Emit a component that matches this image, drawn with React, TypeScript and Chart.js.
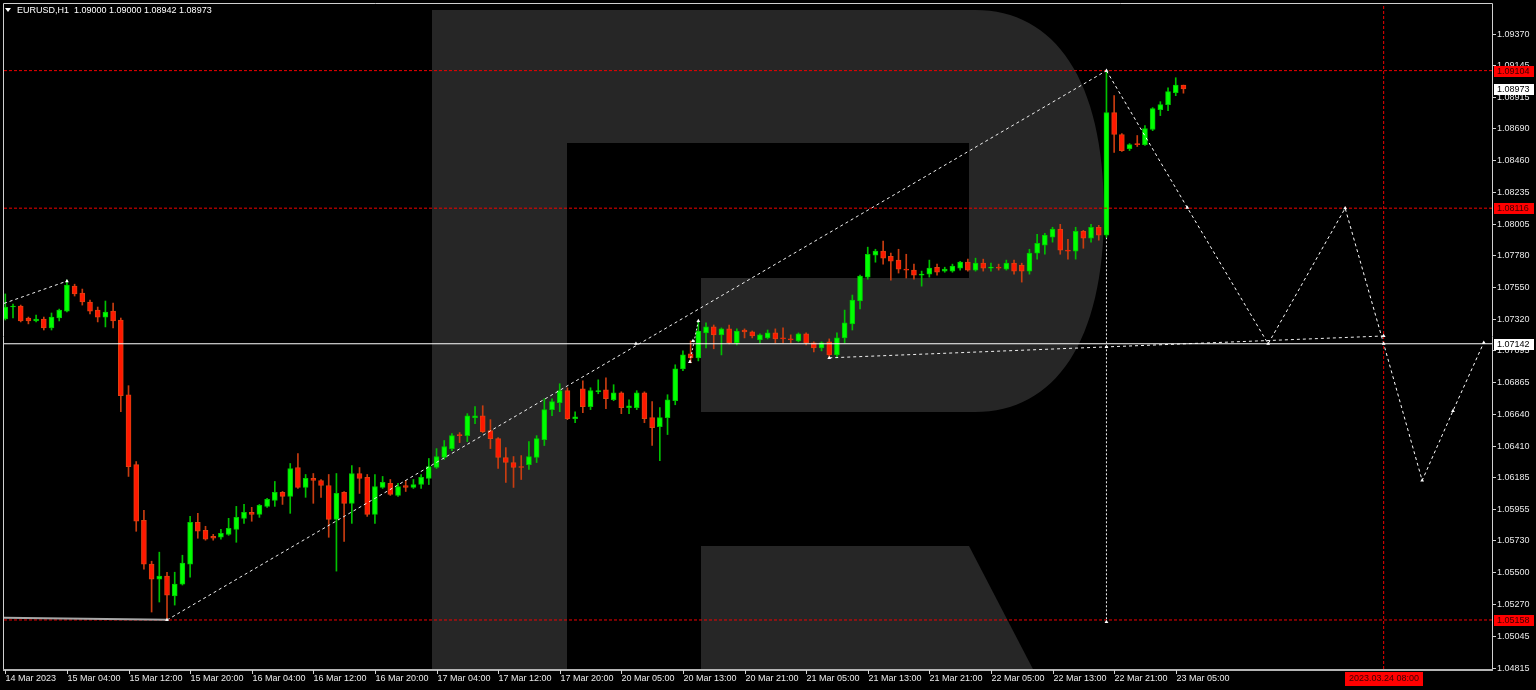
import React, { useEffect, useRef } from 'react';
import { Chart, registerables } from 'chart.js';

Chart.register(...registerables);

// ---------- candle data (EURUSD H1), bar index 0 = 14 Mar 20:00 ----------
const opens = [
  1.07320, 1.07406, 1.07413, 1.07327, 1.07306, 1.07320, 1.07256, 1.07327, 1.07377, 1.07556,
  1.07507, 1.07442, 1.07384, 1.07334, 1.07377, 1.07313, 1.06776, 1.06274, 1.05874, 1.05559,
  1.05451, 1.05473, 1.05330, 1.05416, 1.05559, 1.05860, 1.05802, 1.05759, 1.05752, 1.05773,
  1.05809, 1.05888, 1.05931, 1.05917, 1.05974, 1.06017, 1.06074, 1.06046, 1.06253, 1.06110,
  1.06175, 1.06160, 1.06124, 1.05881, 1.06074, 1.05996, 1.06210, 1.06182, 1.05917, 1.06110,
  1.06139, 1.06053, 1.06124, 1.06110, 1.06131, 1.06175, 1.06253, 1.06325, 1.06389, 1.06490,
  1.06482, 1.06611, 1.06625, 1.06518, 1.06461, 1.06325, 1.06289, 1.06260, 1.06274, 1.06325,
  1.06454, 1.06669, 1.06719, 1.06805, 1.06604, 1.06819, 1.06690, 1.06798, 1.06812, 1.06740,
  1.06790, 1.06683, 1.06683, 1.06790, 1.06611, 1.06547, 1.06611, 1.06733, 1.06962, 1.07070,
  1.07041, 1.07220, 1.07263, 1.07206, 1.07249, 1.07148, 1.07241, 1.07227, 1.07170, 1.07184,
  1.07220, 1.07184, 1.07177, 1.07163, 1.07213, 1.07148, 1.07113, 1.07156, 1.07062, 1.07184,
  1.07285, 1.07449, 1.07621, 1.07778, 1.07807, 1.07771, 1.07743, 1.07678, 1.07671, 1.07635,
  1.07642, 1.07692, 1.07664, 1.07664, 1.07685, 1.07728, 1.07671, 1.07721, 1.07685, 1.07692,
  1.07678, 1.07721, 1.07707, 1.07664, 1.07793, 1.07850, 1.07907, 1.07965, 1.07814, 1.07807,
  1.07950, 1.07900, 1.07979, 1.07922, 1.08802, 1.08645, 1.08544, 1.08580, 1.08573, 1.08681,
  1.08824, 1.08860, 1.08946, 1.09000,
];
const highs = [
  1.07500, 1.07428, 1.07420, 1.07334, 1.07348, 1.07334, 1.07363, 1.07391, 1.07599, 1.07570,
  1.07535, 1.07456, 1.07406, 1.07449, 1.07435, 1.07327, 1.06841, 1.06296, 1.05945, 1.05580,
  1.05645, 1.05501, 1.05501, 1.05623, 1.05903, 1.05924, 1.05831, 1.05773, 1.05809, 1.05888,
  1.05974, 1.05988, 1.05967, 1.05988, 1.06031, 1.06153, 1.06081, 1.06282, 1.06353, 1.06203,
  1.06210, 1.06167, 1.06203, 1.06210, 1.06081, 1.06267, 1.06253, 1.06203, 1.06203, 1.06189,
  1.06167, 1.06139, 1.06160, 1.06167, 1.06203, 1.06318, 1.06389, 1.06447, 1.06497, 1.06504,
  1.06640, 1.06690, 1.06697, 1.06597, 1.06468, 1.06396, 1.06332, 1.06339, 1.06439, 1.06482,
  1.06747, 1.06747, 1.06855, 1.06826, 1.06654, 1.06876, 1.06826, 1.06883, 1.06898, 1.06848,
  1.06797, 1.06740, 1.06805, 1.06797, 1.06726, 1.06683, 1.06776, 1.06991, 1.07091, 1.07163,
  1.07306, 1.07292, 1.07277, 1.07256, 1.07277, 1.07249, 1.07249, 1.07234, 1.07213, 1.07241,
  1.07249, 1.07256, 1.07206, 1.07220, 1.07220, 1.07156, 1.07156, 1.07177, 1.07220, 1.07384,
  1.07492, 1.07635, 1.07836, 1.07821, 1.07879, 1.07793, 1.07821, 1.07785, 1.07714, 1.07664,
  1.07743, 1.07714, 1.07692, 1.07714, 1.07735, 1.07750, 1.07757, 1.07750, 1.07721, 1.07714,
  1.07743, 1.07743, 1.07721, 1.07821, 1.07929, 1.07936, 1.07979, 1.08000, 1.07893, 1.07979,
  1.07957, 1.08000, 1.07993, 1.09104, 1.08924, 1.08652, 1.08580, 1.08638, 1.08709, 1.08838,
  1.08881, 1.08981, 1.09053, 1.09000,
];
const lows = [
  1.07313, 1.07327, 1.07299, 1.07285, 1.07299, 1.07241, 1.07241, 1.07306, 1.07370, 1.07485,
  1.07420, 1.07356, 1.07299, 1.07263, 1.07256, 1.06654, 1.06189, 1.05795, 1.05523, 1.05215,
  1.05287, 1.05158, 1.05265, 1.05409, 1.05466, 1.05745, 1.05731, 1.05731, 1.05738, 1.05766,
  1.05716, 1.05852, 1.05867, 1.05895, 1.05967, 1.05974, 1.05988, 1.05924, 1.06103, 1.06039,
  1.05996, 1.06039, 1.05752, 1.05509, 1.05723, 1.05852, 1.06067, 1.05902, 1.05852, 1.06103,
  1.06053, 1.06046, 1.06081, 1.06103, 1.06103, 1.06131, 1.06246, 1.06311, 1.06375, 1.06432,
  1.06439, 1.06568, 1.06504, 1.06389, 1.06246, 1.06146, 1.06110, 1.06167, 1.06239, 1.06289,
  1.06411, 1.06625, 1.06654, 1.06597, 1.06575, 1.06647, 1.06669, 1.06783, 1.06676, 1.06733,
  1.06640, 1.06640, 1.06669, 1.06575, 1.06411, 1.06303, 1.06490, 1.06704, 1.06948, 1.07005,
  1.07019, 1.07113, 1.07106, 1.07062, 1.07141, 1.07134, 1.07184, 1.07184, 1.07148, 1.07177,
  1.07148, 1.07148, 1.07148, 1.07156, 1.07134, 1.07084, 1.07091, 1.07041, 1.07041, 1.07148,
  1.07241, 1.07392, 1.07606, 1.07728, 1.07714, 1.07599, 1.07650, 1.07614, 1.07606, 1.07556,
  1.07621, 1.07635, 1.07656, 1.07656, 1.07671, 1.07664, 1.07664, 1.07664, 1.07664, 1.07671,
  1.07671, 1.07642, 1.07585, 1.07642, 1.07750, 1.07785, 1.07872, 1.07785, 1.07750, 1.07750,
  1.07828, 1.07872, 1.07886, 1.07907, 1.08516, 1.08523, 1.08530, 1.08559, 1.08566, 1.08673,
  1.08781, 1.08817, 1.08924, 1.08942,
];
const closes = [
  1.07406, 1.07413, 1.07306, 1.07306, 1.07320, 1.07256, 1.07334, 1.07384, 1.07563, 1.07500,
  1.07442, 1.07377, 1.07334, 1.07370, 1.07306, 1.06769, 1.06260, 1.05867, 1.05559, 1.05451,
  1.05473, 1.05337, 1.05416, 1.05566, 1.05860, 1.05795, 1.05738, 1.05745, 1.05781, 1.05816,
  1.05895, 1.05931, 1.05917, 1.05981, 1.06024, 1.06074, 1.06046, 1.06246, 1.06110, 1.06175,
  1.06160, 1.06124, 1.05881, 1.06067, 1.05996, 1.06210, 1.06175, 1.05917, 1.06117, 1.06146,
  1.06060, 1.06117, 1.06110, 1.06131, 1.06182, 1.06260, 1.06332, 1.06404, 1.06482, 1.06482,
  1.06625, 1.06625, 1.06511, 1.06461, 1.06325, 1.06289, 1.06253, 1.06253, 1.06332, 1.06461,
  1.06669, 1.06726, 1.06805, 1.06604, 1.06618, 1.06690, 1.06805, 1.06805, 1.06747, 1.06790,
  1.06683, 1.06697, 1.06790, 1.06604, 1.06540, 1.06611, 1.06740, 1.06962, 1.07062, 1.07041,
  1.07234, 1.07263, 1.07206, 1.07249, 1.07148, 1.07234, 1.07227, 1.07199, 1.07206, 1.07220,
  1.07177, 1.07177, 1.07170, 1.07213, 1.07148, 1.07113, 1.07148, 1.07062, 1.07184, 1.07292,
  1.07456, 1.07628, 1.07785, 1.07807, 1.07757, 1.07735, 1.07678, 1.07671, 1.07635, 1.07642,
  1.07685, 1.07656, 1.07678, 1.07700, 1.07728, 1.07671, 1.07721, 1.07685, 1.07692, 1.07685,
  1.07721, 1.07664, 1.07664, 1.07793, 1.07864, 1.07922, 1.07965, 1.07814, 1.07807, 1.07950,
  1.07900, 1.07979, 1.07922, 1.08802, 1.08645, 1.08530, 1.08573, 1.08573, 1.08688, 1.08831,
  1.08860, 1.08953, 1.09000, 1.08973,
];

// ---------- axes ----------
const timeTickBars = [0, 8, 16, 24, 32, 40, 48, 56, 64, 72, 80, 88, 96, 104, 112, 120, 128, 136, 144, 152];
const timeTickLabels = [
  '14 Mar 2023', '15 Mar 04:00', '15 Mar 12:00', '15 Mar 20:00', '16 Mar 04:00', '16 Mar 12:00',
  '16 Mar 20:00', '17 Mar 04:00', '17 Mar 12:00', '17 Mar 20:00', '20 Mar 05:00', '20 Mar 13:00',
  '20 Mar 21:00', '21 Mar 05:00', '21 Mar 13:00', '21 Mar 21:00', '22 Mar 05:00', '22 Mar 13:00',
  '22 Mar 21:00', '23 Mar 05:00',
];
const priceTicks = [
  1.09370, 1.09145, 1.08915, 1.08690, 1.08460, 1.08235, 1.08005, 1.07780, 1.07550, 1.07320, 1.07095,
  1.06865, 1.06640, 1.06410, 1.06185, 1.05955, 1.05730, 1.05500, 1.05270, 1.05045, 1.04815,
];
const xMin = -0.17;
const xMax = 193.07;
const yMin = 1.048058;
const yMax = 1.095827;

// ---------- levels & drawn objects ----------
const redLevels = [1.09104, 1.08116, 1.05158];
const whiteLevel = 1.07142;
const lastPrice = 1.08973;
const headerText = 'EURUSD,H1  1.09000 1.09000 1.08942 1.08973';
const verticalBar = 179;
const verticalLabel = '2023.03.24 08:00';

const forecastBars = [143, 153.5, 164, 174, 179, 184, 188, 192];
const forecastPrices = [1.09104, 1.08120, 1.07142, 1.08116, 1.07142, 1.06160, 1.06660, 1.07150];
const riseBars = [21, 143];
const risePrices = [1.05158, 1.09104];
const earlyBars = [-0.17, 8];
const earlyPrices = [1.07432, 1.07592];
const flatBars = [107, 179];
const flatPrices = [1.07041, 1.07198];
const stepBars = [88.9, 90];
const stepPrices = [1.07012, 1.07306];
const dropBars = [143, 143];
const dropPrices = [1.07907, 1.05144];
const greyBars = [-0.17, 21];
const greyPrices = [1.05174, 1.05160];
const markerBars = [8, 21, 143, 81.9, 143, 143, 107, 179, 88.9, 89.3, 90, 153.5, 164, 174, 179, 184, 188, 192];
const markerPrices = [
  1.07592, 1.05158, 1.09104, 1.07142, 1.07120, 1.05144, 1.07041, 1.07198, 1.07012, 1.07163, 1.07306,
  1.08120, 1.07142, 1.08116, 1.07142, 1.06160, 1.06660, 1.07150,
];

const FONT = '9px "Liberation Sans", Arial, sans-serif';

const pts = (xs: number[], ys: number[]) => xs.map((x, k) => ({ x, y: ys[k] }));

const lineDs = (xs: number[], ys: number[], color: string, width: number, dash: number[], order = 0) => ({
  type: 'line' as const,
  data: pts(xs, ys),
  borderColor: color,
  borderWidth: width,
  borderDash: dash,
  pointRadius: 0,
  fill: false,
  tension: 0,
  order,
});

const mt4Plugin = {
  id: 'mt4Look',
  beforeDraw(chart: any) {
    const ctx = chart.ctx;
    ctx.save();
    ctx.fillStyle = '#000000';
    ctx.fillRect(0, 0, chart.width, chart.height);
    ctx.restore();
  },
  beforeDatasetsDraw(chart: any) {
    const ctx = chart.ctx;
    const a = chart.chartArea;
    ctx.save();
    ctx.beginPath();
    ctx.rect(a.left, a.top, a.right - a.left, a.bottom - a.top);
    ctx.clip();
    ctx.fillStyle = '#262626';
    ctx.beginPath();
    ctx.moveTo(432, 10);
    ctx.lineTo(975, 10);
    ctx.bezierCurveTo(1055, 10, 1104, 80, 1104, 211);
    ctx.bezierCurveTo(1104, 342, 1055, 412, 975, 412);
    ctx.lineTo(701, 412);
    ctx.lineTo(701, 278);
    ctx.lineTo(969, 278);
    ctx.lineTo(969, 143);
    ctx.lineTo(567, 143);
    ctx.lineTo(567, 700);
    ctx.lineTo(432, 700);
    ctx.closePath();
    ctx.fill();
    ctx.beginPath();
    ctx.moveTo(701, 546);
    ctx.lineTo(969, 546);
    ctx.lineTo(1049, 700);
    ctx.lineTo(701, 700);
    ctx.closePath();
    ctx.fill();
    ctx.restore();
  },
  afterDraw(chart: any) {
    const ctx = chart.ctx;
    const a = chart.chartArea;
    const xs = chart.scales.x;
    const ys = chart.scales.y;
    ctx.save();
    ctx.font = FONT;
    ctx.lineWidth = 1;

    // frame
    ctx.strokeStyle = '#d0d0d0';
    ctx.beginPath();
    ctx.moveTo(a.left - 0.5, a.top - 0.5);
    ctx.lineTo(a.right + 0.5, a.top - 0.5);
    ctx.lineTo(a.right + 0.5, a.bottom + 0.5);
    ctx.moveTo(a.left - 0.5, a.top - 0.5);
    ctx.lineTo(a.left - 0.5, a.bottom + 0.5);
    ctx.stroke();
    ctx.strokeStyle = '#b4b4b4';
    ctx.lineWidth = 2;
    ctx.beginPath();
    ctx.moveTo(a.left - 1, a.bottom + 1);
    ctx.lineTo(a.right + 1, a.bottom + 1);
    ctx.stroke();
    ctx.lineWidth = 1;

    // price ticks
    ctx.strokeStyle = '#d0d0d0';
    ctx.fillStyle = '#e8e8e8';
    ctx.textAlign = 'left';
    ctx.textBaseline = 'middle';
    priceTicks.forEach((p) => {
      const py = Math.round(ys.getPixelForValue(p)) + 0.5;
      ctx.beginPath();
      ctx.moveTo(a.right + 1, py);
      ctx.lineTo(a.right + 4, py);
      ctx.stroke();
      ctx.fillText(p.toFixed(5), a.right + 5, py);
    });

    // time ticks
    timeTickBars.forEach((b, k) => {
      const px = Math.round(xs.getPixelForValue(b)) + 0.5;
      ctx.beginPath();
      ctx.moveTo(px, a.bottom + 1);
      ctx.lineTo(px, a.bottom + 5);
      ctx.stroke();
      ctx.fillText(timeTickLabels[k], px, a.bottom + 10);
    });

    // price boxes
    const box = (p: number, bg: string, fg: string) => {
      const py = Math.round(ys.getPixelForValue(p));
      ctx.fillStyle = bg;
      ctx.fillRect(a.right + 2, py - 5, 40, 11);
      ctx.fillStyle = fg;
      ctx.fillText(p.toFixed(5), a.right + 5, py + 0.5);
    };
    redLevels.forEach((p) => box(p, '#ff0000', '#3a0000'));
    box(lastPrice, '#ffffff', '#000000');
    box(whiteLevel, '#ffffff', '#000000');

    // time box
    const vx = Math.round(xs.getPixelForValue(verticalBar));
    ctx.fillStyle = '#ff0000';
    ctx.fillRect(vx - 39, a.bottom + 3, 78, 14);
    ctx.fillStyle = '#3a0000';
    ctx.textAlign = 'center';
    ctx.fillText(verticalLabel, vx, a.bottom + 10);

    // header
    ctx.fillStyle = '#ffffff';
    ctx.beginPath();
    ctx.moveTo(5, 8);
    ctx.lineTo(11, 8);
    ctx.lineTo(8, 12);
    ctx.closePath();
    ctx.fill();
    ctx.textAlign = 'left';
    ctx.fillText(headerText, 17, 10.5);
    ctx.restore();
  },
};

export default function App() {
  const ref = useRef<HTMLCanvasElement>(null);
  useEffect(() => {
    const canvas = ref.current;
    if (!canvas) return;
    const bull = closes.map((c, i) => c >= opens[i]);
    const bodyFill = bull.map((b) => (b ? '#00ff00' : '#ff1800'));
    const bodyEdge = bull.map((b) => (b ? '#00c800' : '#e04010'));
    const wickCol = bull.map((b) => (b ? '#00c000' : '#c83c10'));
    const chart = new Chart(canvas, {
      type: 'bar',
      data: {
        datasets: [
          {
            type: 'bar',
            data: opens.map((o, i) => ({ x: i, y: [o, closes[i]] })) as any,
            backgroundColor: bodyFill,
            borderColor: bodyEdge,
            borderWidth: 1,
            borderSkipped: false,
            grouped: false,
            maxBarThickness: 5,
            categoryPercentage: 1,
            barPercentage: 1,
            minBarLength: 1,
            order: 1,
          } as any,
          {
            type: 'bar',
            data: lows.map((l, i) => ({ x: i, y: [l, highs[i]] })) as any,
            backgroundColor: wickCol,
            borderWidth: 0,
            grouped: false,
            maxBarThickness: 1,
            categoryPercentage: 1,
            barPercentage: 1,
            order: 2,
          } as any,
          lineDs(greyBars, greyPrices, '#a8a8a8', 2, []) as any,
          lineDs([xMin, xMax], [redLevels[0], redLevels[0]], '#f00000', 1, [3, 2]) as any,
          lineDs([xMin, xMax], [redLevels[1], redLevels[1]], '#f00000', 1, [3, 2]) as any,
          lineDs([xMin, xMax], [redLevels[2], redLevels[2]], '#f00000', 1, [3, 2]) as any,
          lineDs([verticalBar, verticalBar], [yMin, yMax], '#f00000', 1, [3, 2]) as any,
          lineDs([xMin, xMax], [whiteLevel, whiteLevel], '#ffffff', 1, []) as any,
          lineDs(earlyBars, earlyPrices, '#f0f0f0', 1, [3, 3]) as any,
          lineDs(riseBars, risePrices, '#f0f0f0', 1, [3, 3]) as any,
          lineDs(flatBars, flatPrices, '#f0f0f0', 1, [3, 3]) as any,
          lineDs(stepBars, stepPrices, '#f0f0f0', 1, [2, 2]) as any,
          lineDs(dropBars, dropPrices, '#f0f0f0', 1, [2, 2], 3) as any,
          lineDs(forecastBars, forecastPrices, '#ffffff', 1, [3, 3]) as any,
          {
            type: 'line',
            data: pts(markerBars, markerPrices),
            showLine: false,
            pointRadius: 2.2,
            pointStyle: 'triangle',
            pointBackgroundColor: '#ffffff',
            pointBorderColor: '#ffffff',
            pointBorderWidth: 0,
            order: -1,
          } as any,
        ],
      },
      options: {
        responsive: false,
        maintainAspectRatio: false,
        devicePixelRatio: 1,
        animation: false,
        events: [],
        layout: { padding: { left: 2, top: 2, right: 44, bottom: 21 } },
        plugins: { legend: { display: false }, tooltip: { enabled: false } },
        scales: {
          x: { type: 'linear', min: xMin, max: xMax, display: false, offset: false, grid: { display: false } },
          y: { type: 'linear', min: yMin, max: yMax, display: false, beginAtZero: false, grid: { display: false } },
        },
      } as any,
      plugins: [mt4Plugin],
    });
    return () => chart.destroy();
  }, []);
  return (
    <div style={{ position: 'fixed', left: 0, top: 0, width: 1536, height: 690, background: '#000', overflow: 'hidden' }}>
      <canvas ref={ref} width={1536} height={690} style={{ display: 'block', width: 1536, height: 690 }} />
    </div>
  );
}
